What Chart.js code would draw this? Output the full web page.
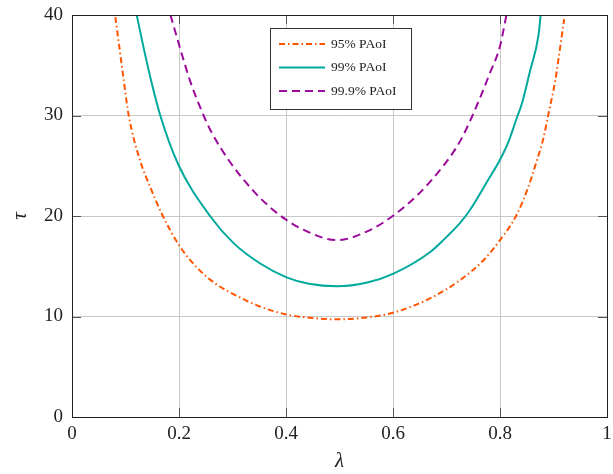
<!DOCTYPE html>
<html lang="en">
<head>
<meta charset="utf-8"/>
<title>PAoI</title>
<script src="https://cdn.jsdelivr.net/npm/chart.js@4.4.1/dist/chart.umd.min.js"></script>
<style>
    body { margin: 0; background: #fff; }
    .wrapper { width: 613px; height: 474px; }
</style>
</head>
<body>
<div class="wrapper">
    <canvas id="chart1" width="613" height="474"></canvas>
</div>
<script>
    // values
    var lam95 = [0.081, 0.097, 0.106, 0.128, 0.146, 0.168, 0.2, 0.233, 0.27, 0.314, 0.351, 0.401, 0.45, 0.495, 0.55, 0.602, 0.669, 0.725, 0.769, 0.8, 0.83, 0.853, 0.867, 0.881, 0.89, 0.903, 0.909, 0.92];
    var tau95 = [39.8, 33.4, 30, 25.4, 22.9, 20.2, 17.1, 14.9, 13.2, 11.9, 11, 10.2, 9.85, 9.72, 9.9, 10.4, 11.8, 13.6, 15.6, 17.6, 20, 22.9, 25.2, 27.7, 30, 33.4, 35.5, 39.6];

    var lam99 = [0.121, 0.134, 0.15, 0.165, 0.198, 0.258, 0.302, 0.351, 0.401, 0.443, 0.495, 0.55, 0.602, 0.669, 0.694, 0.725, 0.744, 0.778, 0.8, 0.816, 0.831, 0.841, 0.856, 0.872, 0.876];
    var tau99 = [40, 36.7, 33, 30, 25.2, 20, 17.3, 15.3, 13.9, 13.25, 13, 13.35, 14.3, 16.4, 17.6, 19.3, 20.6, 23.6, 25.6, 27.4, 29.7, 31.2, 34.4, 38, 40];

    var lam999 = [0.184, 0.202, 0.221, 0.246, 0.26, 0.295, 0.339, 0.376, 0.401, 0.426, 0.495, 0.557, 0.602, 0.65, 0.682, 0.707, 0.728, 0.747, 0.763, 0.781, 0.8, 0.812];
    var tau999 = [40, 36.7, 33.4, 30, 28.4, 25.4, 22.5, 20.6, 19.6, 18.8, 17.6, 18.6, 20.1, 22.3, 24.2, 25.9, 27.7, 29.8, 31.8, 34.2, 36.9, 40];

    var xTicks = [0, 0.2, 0.4, 0.6, 0.8, 1];
    var yTicks = [0, 10, 20, 30, 40];

    var seriesNames = ['95% PAoI', '99% PAoI', '99.9% PAoI'];
    var colors = ['#ff5500', '#00a99d', '#9b0a9b'];
    var dashes = [[6, 3, 1.5, 3], [], [8, 5]];

    var SERIF = "'Liberation Serif', 'DejaVu Serif', serif";

    function pts(xs, ys) {
        return xs.map(function (x, i) { return {x: x, y: ys[i]}; });
    }

    // frame, inner tick marks and the boxed legend, pgfplots style
    var framePlugin = {
        id: 'frame',
        afterDraw: function (chart) {
            var ctx = chart.ctx, a = chart.chartArea;
            var xs = chart.scales.x, ys = chart.scales.y;
            ctx.save();
            ctx.strokeStyle = '#555';
            ctx.lineWidth = 1;
            ctx.beginPath();
            xTicks.forEach(function (t) {
                var px = Math.round(xs.getPixelForValue(t)) + 0.5;
                ctx.moveTo(px, a.bottom); ctx.lineTo(px, a.bottom - 9);
                ctx.moveTo(px, a.top); ctx.lineTo(px, a.top + 9);
            });
            yTicks.forEach(function (t) {
                var py = Math.round(ys.getPixelForValue(t)) + 0.5;
                ctx.moveTo(a.left, py); ctx.lineTo(a.left + 9, py);
                ctx.moveTo(a.right, py); ctx.lineTo(a.right - 9, py);
            });
            ctx.stroke();

            ctx.strokeStyle = '#222';
            ctx.strokeRect(Math.round(a.left) + 0.5, Math.round(a.top) + 0.5,
                Math.round(a.right - a.left), Math.round(a.bottom - a.top));

            // legend box
            var lx = a.left + 198, ly = a.top + 13, lw = 141, lh = 81;
            ctx.fillStyle = '#fff';
            ctx.fillRect(lx, ly, lw, lh);
            ctx.strokeStyle = '#333';
            ctx.strokeRect(lx + 0.5, ly + 0.5, lw, lh);
            ctx.font = '13.5px ' + SERIF;
            ctx.textBaseline = 'middle';
            seriesNames.forEach(function (name, i) {
                var y = ly + 16 + i * 23.5;
                ctx.strokeStyle = colors[i];
                ctx.lineWidth = 2;
                ctx.setLineDash(dashes[i]);
                ctx.beginPath();
                ctx.moveTo(lx + 9, y); ctx.lineTo(lx + 55, y);
                ctx.stroke();
                ctx.setLineDash([]);
                ctx.fillStyle = '#222';
                ctx.fillText(name, lx + 61, y);
            });
            ctx.restore();
        }
    };

    var datasets = [
        {data: pts(lam95, tau95)},
        {data: pts(lam99, tau99)},
        {data: pts(lam999, tau999)}
    ].map(function (d, i) {
        d.label = seriesNames[i];
        d.borderColor = colors[i];
        d.backgroundColor = colors[i];
        d.borderDash = dashes[i];
        d.borderWidth = 2;
        d.pointRadius = 0;
        d.fill = false;
        d.cubicInterpolationMode = 'monotone';
        return d;
    });

    var chart1 = new Chart(document.getElementById('chart1').getContext('2d'), {
        type: 'line',
        data: {datasets: datasets},
        plugins: [framePlugin],
        options: {
            responsive: false,
            animation: false,
            layout: {padding: {left: 0, right: 6, top: 15, bottom: 0}},
            plugins: {legend: {display: false}, tooltip: {enabled: false}},
            scales: {
                x: {
                    type: 'linear',
                    min: 0, max: 1,
                    afterBuildTicks: function (s) { s.ticks = xTicks.map(function (v) { return {value: v}; }); },
                    afterFit: function (s) {
                        s.height = 57;
                        s.paddingLeft = 0; s.paddingRight = 0;
                    },
                    grid: {color: '#c8c8c8', drawTicks: false},
                    border: {display: false},
                    ticks: {
                        padding: 6,
                        color: '#222',
                        font: {family: SERIF, size: 19},
                        callback: function (v) { return String(v); }
                    },
                    title: {
                        display: true, text: 'λ', color: '#222',
                        font: {family: SERIF, size: 21, style: 'italic'},
                        padding: {top: 0, bottom: 0}
                    }
                },
                y: {
                    min: 0, max: 40,
                    afterBuildTicks: function (s) { s.ticks = yTicks.map(function (v) { return {value: v}; }); },
                    afterFit: function (s) {
                        s.width = 72;
                        s.paddingTop = 0; s.paddingBottom = 0;
                    },
                    grid: {color: '#c8c8c8', drawTicks: false},
                    border: {display: false},
                    ticks: {
                        padding: 9,
                        color: '#222',
                        font: {family: SERIF, size: 19}
                    },
                    title: {
                        display: true, text: 'τ', color: '#222',
                        font: {family: SERIF, size: 21, style: 'italic'},
                        padding: {top: 8, bottom: 0}
                    }
                }
            }
        }
    });
</script>
</body>
</html>
